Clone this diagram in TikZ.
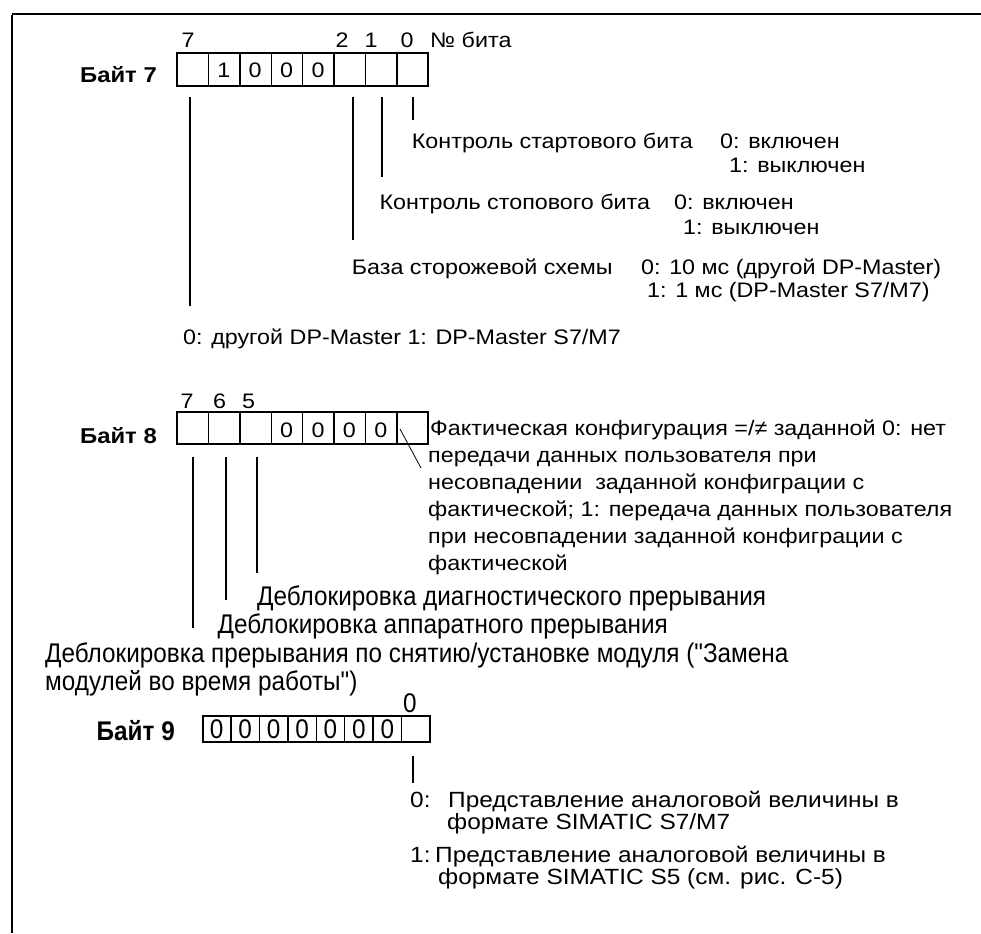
\documentclass[tikz,border=0pt]{standalone}
\usepackage{fontspec}
\setmainfont{Liberation Sans}[FakeStretch=1.11]
\newfontfamily\condfont{Liberation Sans}[FakeStretch=0.9]
\begin{document}
\begin{tikzpicture}[x=1pt,y=-1pt]
\useasboundingbox (0,0) rectangle (981,933);
\tikzset{
 txt/.style={anchor=base west,inner sep=0pt,font=\fontsize{21}{24}\selectfont},
 ctxt/.style={anchor=base,inner sep=0pt,font=\fontsize{21}{24}\selectfont},
 btxt/.style={anchor=base east,inner sep=0pt,font=\fontsize{21.5}{24}\selectfont\bfseries},
 ltxt/.style={anchor=base west,inner sep=0pt,font=\fontsize{22}{24}\selectfont},
 ntxt/.style={anchor=base west,inner sep=0pt,font=\fontsize{27}{30}\condfont},
 nctxt/.style={anchor=base,inner sep=0pt,font=\fontsize{27}{30}\condfont},
 nbtxt/.style={anchor=base east,inner sep=0pt,font=\fontsize{27}{30}\condfont\bfseries},
 outerbox/.style={line width=2pt},
 cellsep/.style={line width=1.4pt},
 leadthin/.style={line width=1.2pt},
 leadmid/.style={line width=1.8pt},
 leadthick/.style={line width=2.4pt},
}
% frame
\coordinate (ftl) at (12,14);
\coordinate (ftr) at (981,14);
\coordinate (fbl) at (12,933);
\draw[line width=2.5pt] (ftr) -- (ftl);
\draw[line width=1.5pt] ([yshift=-1.2pt]ftl) -- (fbl);

% ---------------- Byte 7 ----------------
\foreach \i in {1,...,7} \draw[cellsep] (177+31.4*\i,53) -- (177+31.4*\i,86);
\draw[outerbox] (177,53) rectangle (428.2,86);
\node[btxt] (byte7) at (157,83) {Байт 7};
\node[ctxt] (b7n7) at (188,48) {7};
\node[ctxt] (b7n2) at (342,48) {2};
\node[ctxt] (b7n1) at (371,48) {1};
\node[ctxt] (b7n0) at (407,48) {0};
\node[txt] (b7nbit) at (430,48) {№ бита};
\node[ctxt] (b7v6) at (223.8,78) {1};
\node[ctxt] (b7v5) at (255.2,78) {0};
\node[ctxt] (b7v4) at (286.6,78) {0};
\node[ctxt] (b7v3) at (318,78) {0};

\coordinate (l70a) at (413,97);  \coordinate (l70b) at (413,120);
\coordinate (l71a) at (381.7,97); \coordinate (l71b) at (381.7,177);
\coordinate (l72a) at (352.7,97); \coordinate (l72b) at (352.7,240);
\coordinate (l77a) at (190,97);  \coordinate (l77b) at (190,306);
\draw[leadthin] (l70a) -- (l70b);
\draw[leadmid] (l71a) -- (l71b);
\draw[leadthick] (l72a) -- (l72b);
\draw[leadthin] (l77a) -- (l77b);

\node[txt] (t0a) at (411.7,149) {Контроль стартового бита};
\node[txt] (t0b) at (720,149) {0: включен};
\node[txt] (t0c) at (729,173) {1: выключен};
\node[txt] (t1a) at (379.3,210) {Контроль стопового бита};
\node[txt] (t1b) at (674,210) {0: включен};
\node[txt] (t1c) at (683,234) {1: выключен};
\node[txt] (t2a) at (351.7,274) {База сторожевой схемы};
\node[txt] (t2b) at (641,274) {0: 10 мс (другой DP-Master)};
\node[txt] (t2c) at (647,297) {1: 1 мс (DP-Master S7/M7)};
\node[txt] (t7) at (183,344) {0: другой DP-Master 1: DP-Master S7/M7};

% ---------------- Byte 8 ----------------
\foreach \i in {1,...,7} \draw[cellsep] (177+31.4*\i,412) -- (177+31.4*\i,444);
\draw[outerbox] (177,412) rectangle (428.2,444);
\node[btxt] (byte8) at (157,443) {Байт 8};
\node[ctxt] (b8n7) at (187,408) {7};
\node[ctxt] (b8n6) at (219.5,408) {6};
\node[ctxt] (b8n5) at (248.5,408) {5};
\node[ctxt] (b8v4) at (286.6,437) {0};
\node[ctxt] (b8v3) at (318,437) {0};
\node[ctxt] (b8v2) at (349.4,437) {0};
\node[ctxt] (b8v1) at (380.8,437) {0};

\coordinate (d0a) at (400,429); \coordinate (d0b) at (421,468);
\draw[line width=0.8pt] (d0a) -- (d0b);

\coordinate (l87a) at (193.3,457); \coordinate (l87b) at (193.3,628);
\coordinate (l86a) at (225.7,457); \coordinate (l86b) at (225.7,600);
\coordinate (l85a) at (256.7,457); \coordinate (l85b) at (256.7,573);
\draw[leadmid] (l87a) -- (l87b);
\draw[leadmid] (l86a) -- (l86b);
\draw[leadmid] (l85a) -- (l85b);

\node[txt] (p1) at (430,435) {Фактическая конфигурация =/≠ заданной 0: нет};
\node[txt] (p2) at (428,462) {передачи данных пользователя при};
\node[txt] (p3) at (428,489) {несовпадении\ \ заданной конфиграции с};
\node[txt] (p4) at (428,516) {фактической; 1: передача данных пользователя};
\node[txt] (p5) at (428,543) {при несовпадении заданной конфиграции с};
\node[txt] (p6) at (428,570) {фактической};

\node[ntxt] (e5) at (257,605) {Деблокировка диагностического прерывания};
\node[ntxt] (e6) at (217.5,633) {Деблокировка аппаратного прерывания};
\node[ntxt] (e7a) at (45,662) {Деблокировка прерывания по снятию/установке модуля ("Замена};
\node[ntxt] (e7b) at (45,690) {модулей во время работы")};

% ---------------- Byte 9 ----------------
\foreach \i in {1,...,7} \draw[cellsep] (202.5+28.44*\i,716) -- (202.5+28.44*\i,742);
\draw[outerbox] (202.5,716) rectangle (430,742);
\node[nbtxt] (byte9) at (175,740) {Байт 9};
\node[nctxt] (b9n0) at (410,712) {0};
\foreach \i in {0,...,6} \node[nctxt] (b9v\i) at (216.7+28.44*\i,738.5) {0};

\coordinate (l90a) at (413,756); \coordinate (l90b) at (413,783);
\draw[leadthin] (l90a) -- (l90b);

\node[ltxt] (s0a) at (410,807) {0:};
\node[ltxt] (s0b) at (448,807) {Представление аналоговой величины в};
\node[ltxt] (s0c) at (447,829) {формате SIMATIC S7/M7};
\node[ltxt] (s1a) at (410,862) {1:};
\node[ltxt] (s1b) at (435,862) {Представление аналоговой величины в};
\node[ltxt] (s1c) at (438,884) {формате SIMATIC S5 (см. рис. C-5)};
\end{tikzpicture}
\end{document}
